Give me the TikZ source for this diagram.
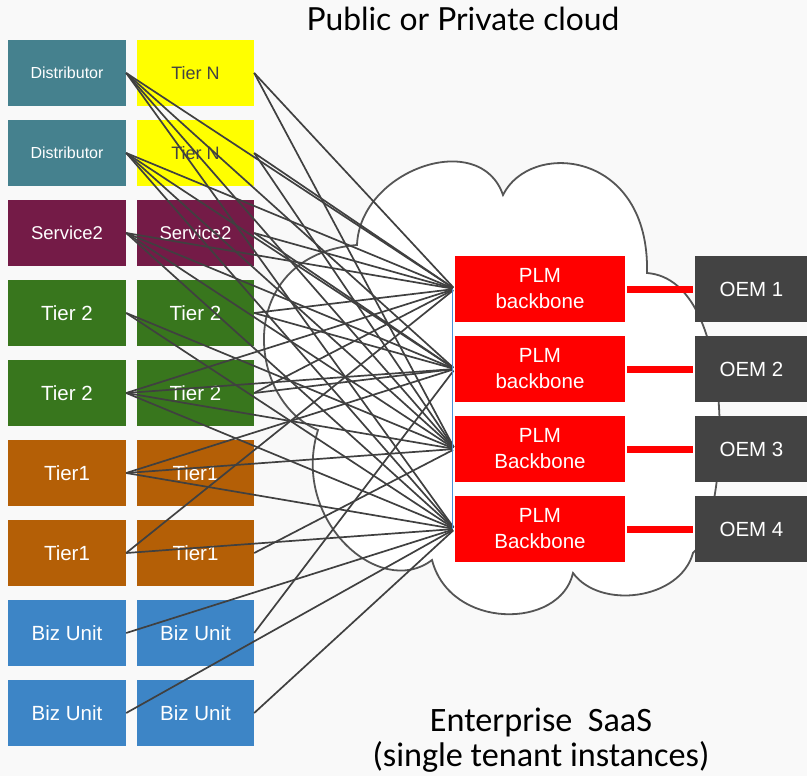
\documentclass[tikz,border=0pt]{standalone}
\usepackage{fontspec}
\setmainfont{Liberation Sans}
\newfontfamily\latofont{Lato}
\newfontfamily\carlfont{Carlito}
\definecolor{bgcol}{HTML}{F9F9F9}
\definecolor{distc}{HTML}{45818E}
\definecolor{tiernc}{HTML}{FFFF00}
\definecolor{servc}{HTML}{741B47}
\definecolor{tiertwoc}{HTML}{38761D}
\definecolor{tieronec}{HTML}{B45F06}
\definecolor{bizc}{HTML}{3D85C6}
\definecolor{plmc}{HTML}{FF0000}
\definecolor{oemc}{HTML}{434343}
\definecolor{linkc}{HTML}{404040}
\definecolor{cloudc}{HTML}{555555}
\definecolor{bluec}{HTML}{4A90D9}
\begin{document}
\begin{tikzpicture}[x=1pt,y=-1pt,
  box/.style={minimum height=66pt, inner sep=0pt, text=white, font=\fontsize{20.5}{24}\selectfont},
  lbox/.style={box, minimum width=118pt},
  rbox/.style={box, minimum width=117pt},
  plmbox/.style={box, minimum width=170pt, fill=plmc, align=center, font=\fontsize{20.5}{26}\selectfont},
  oembox/.style={box, minimum width=113pt, fill=oemc},
  link/.style={draw=linkc, line width=1.7pt},
  redlink/.style={draw=plmc, line width=7pt},
  cloudline/.style={draw=cloudc, line width=1.8pt, fill=white}
]
\fill[bgcol] (0,0) rectangle (807,776);
\useasboundingbox (0,0) rectangle (807,776);

% cloud
\path[cloudline] (357,245) .. controls (360,170) and (480,128) .. (503,195)
  .. controls (530,140) and (650,150) .. (647,273)
  .. controls (740,280) and (730,520) .. (693,553)
  .. controls (680,600) and (600,610) .. (573,573)
  .. controls (560,630) and (450,630) .. (432,560)
  .. controls (380,600) and (290,520) .. (318,430)
  .. controls (245,400) and (235,255) .. (357,245) -- cycle;

% left column
\node[lbox, fill=distc, font=\fontsize{16}{20}\selectfont] (L1) at (67,73) {Distributor};
\node[lbox, fill=distc, font=\fontsize{16}{20}\selectfont] (L2) at (67,153) {Distributor};
\node[lbox, fill=servc, font=\fontsize{18.5}{22}\selectfont] (L3) at (67,233) {Service2};
\node[lbox, fill=tiertwoc] (L4) at (67,313) {Tier 2};
\node[lbox, fill=tiertwoc] (L5) at (67,393) {Tier 2};
\node[lbox, fill=tieronec] (L6) at (67,473) {Tier1};
\node[lbox, fill=tieronec] (L7) at (67,553) {Tier1};
\node[lbox, fill=bizc] (L8) at (67,633) {Biz Unit};
\node[lbox, fill=bizc] (L9) at (67,713) {Biz Unit};
% right column
\node[rbox, fill=tiernc, text=oemc, font=\fontsize{18}{22}\selectfont] (R1) at (195.5,73) {Tier N};
\node[rbox, fill=tiernc, text=oemc, font=\fontsize{18}{22}\selectfont] (R2) at (195.5,153) {Tier N};
\node[rbox, fill=servc, font=\fontsize{18.5}{22}\selectfont] (R3) at (195.5,233) {Service2};
\node[rbox, fill=tiertwoc] (R4) at (195.5,313) {Tier 2};
\node[rbox, fill=tiertwoc] (R5) at (195.5,393) {Tier 2};
\node[rbox, fill=tieronec] (R6) at (195.5,473) {Tier1};
\node[rbox, fill=tieronec] (R7) at (195.5,553) {Tier1};
\node[rbox, fill=bizc] (R8) at (195.5,633) {Biz Unit};
\node[rbox, fill=bizc] (R9) at (195.5,713) {Biz Unit};

% PLM and OEM
\node[plmbox] (P1) at (540,289) {PLM\\backbone};
\node[plmbox] (P2) at (540,369) {PLM\\backbone};
\node[plmbox] (P3) at (540,449) {PLM\\Backbone};
\node[plmbox] (P4) at (540,529) {PLM\\Backbone};
\node[oembox] (O1) at (751.5,289) {OEM 1};
\node[oembox] (O2) at (751.5,369) {OEM 2};
\node[oembox] (O3) at (751.5,449) {OEM 3};
\node[oembox] (O4) at (751.5,529) {OEM 4};

% links
\foreach \s/\t in {L1/P1,L1/P2,L1/P3,L1/P4,
                   L2/P1,L2/P2,L2/P3,L2/P4,
                   L3/P1,L3/P2,L3/P3,L3/P4,
                   L4/P3,L4/P4,
                   L5/P1,L5/P2,L5/P3,L5/P4,
                   L6/P2,L6/P3,L6/P4,
                   L7/P1,L7/P4,
                   L8/P4,L9/P4,
                   R1/P1,R1/P3,R2/P1,R2/P3,R3/P1,R3/P2,
                   R4/P1,R4/P2,R5/P1,R5/P2,
                   R7/P3,R8/P2,R9/P4}
  \draw[link, shorten >=2pt] (\s.east) -- (\t.west);

\draw[draw=bluec, line width=1pt, shorten <=-0.5pt] ([xshift=-2pt]P1.west) -- ([xshift=-2pt]P4.west);

\foreach \i in {1,2,3,4}
  \draw[redlink, shorten <=2pt, shorten >=2pt] (P\i.east) -- (O\i.west);

% texts
\node[font=\latofont\fontsize{31.8}{34}\selectfont, text=black] (T1) at (463,19) {Public or Private cloud};
\node[font=\carlfont\fontsize{34.2}{35}\selectfont, text=black, align=center] (T2) at (541,740) {Enterprise\ \ SaaS\\(single tenant instances)};
\end{tikzpicture}
\end{document}
